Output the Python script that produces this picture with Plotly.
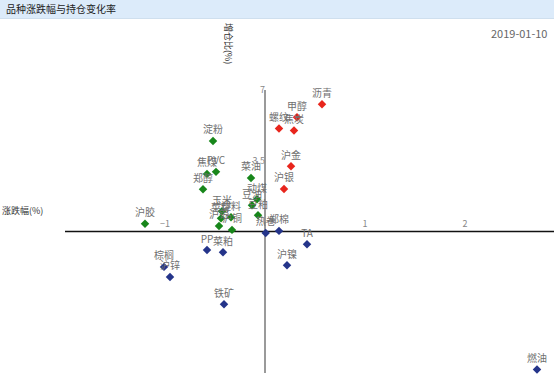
import plotly.graph_objects as go

# ---- data ----
red_names = ["沥青", "甲醇", "螺纹", "焦炭", "沪金", "沪银"]
red_x = [0.57, 0.32, 0.14, 0.29, 0.26, 0.19]
red_y = [6.3, 5.65, 5.1, 5.0, 3.23, 2.1]

green_names = ["淀粉", "焦煤", "PVC", "郑醇", "菜油", "动煤", "豆油", "豆粕",
               "玉米", "菜籽", "塑料", "沪铝", "沪铜", "沪胶"]
green_x = [-0.52, -0.58, -0.49, -0.62, -0.14, -0.08, -0.13, -0.07,
           -0.43, -0.44, -0.34, -0.46, -0.33, -1.2]
green_y = [4.48, 2.85, 2.95, 2.09, 2.65, 1.6, 1.3, 0.8,
           1.0, 0.65, 0.7, 0.27, 0.08, 0.38]

blue_names = ["热卷", "郑棉", "TA", "沪镍", "PP", "菜粕", "棕榈", "沪锌", "铁矿", "燃油"]
blue_x = [0.007, 0.14, 0.42, 0.22, -0.58, -0.42, -1.01, -0.95, -0.41, 2.72]
blue_y = [-0.07, 0.03, -0.63, -1.67, -0.92, -1.03, -1.75, -2.25, -3.6, -6.83]

x_ticks = [-2, -1, 1, 2]
y_ticks = [7, 3.5, 0, -3.5, -7]
y_tick_text = ["7", "3.5", "0", "-3.5", "-7"]

title_text = "品种涨跌幅与持仓变化率"
date_text = "2019-01-10"
x_title = "涨跌幅(%)"
y_title = "增仓比(%)"

FONT = "Noto Sans CJK SC"

fig = go.Figure()
for names, xs, ys, col in [(red_names, red_x, red_y, "#e8251c"),
                           (green_names, green_x, green_y, "#17861a"),
                           (blue_names, blue_x, blue_y, "#24348a")]:
    fig.add_trace(go.Scatter(
        x=xs, y=ys, text=names, mode="markers+text",
        textposition="top center",
        textfont=dict(family=FONT, size=10, color="#707070"),
        marker=dict(symbol="diamond", size=6.5, color=col),
        hoverinfo="text", showlegend=False, cliponaxis=False))

W, H = 554, 380
ml, mr, mt, mb = 65, 0, 90, 7
pw, ph = W - ml - mr, H - mt - mb


def px(xp):
    return (xp - ml) / pw


def py(yp):
    return (H - mb - yp) / ph


xr = [-2, 2.89]
fig.update_layout(
    width=W, height=H,
    margin=dict(l=ml, r=mr, t=mt, b=mb),
    paper_bgcolor="white", plot_bgcolor="white",
    font=dict(family=FONT),
    xaxis=dict(range=xr, anchor="free", position=0.5, showgrid=False,
               zeroline=True, zerolinecolor="#9a9a9a", zerolinewidth=2,
               showline=False, tickvals=x_ticks, ticklabelposition="inside",
               tickfont=dict(size=9, color="#888888"), ticks=""),
    yaxis=dict(range=[-7, 7], anchor="free", position=(0 - xr[0]) / (xr[1] - xr[0]),
               showgrid=False, zeroline=False,
               showline=False, tickvals=y_ticks, ticktext=y_tick_text,
               tickfont=dict(size=9, color="#888888"), ticks=""),
    shapes=[
        dict(type="rect", xref="paper", yref="paper", x0=px(0), x1=px(W),
             y0=py(18), y1=py(0), fillcolor="#dcebfa", line=dict(width=0), layer="below"),
        dict(type="line", xref="paper", yref="paper", x0=px(0), x1=px(W),
             y0=py(18.5), y1=py(18.5), line=dict(color="#cfdfee", width=1)),
        dict(type="line", xref="paper", yref="y", x0=0, x1=1, y0=0, y1=0,
             line=dict(color="#111111", width=1.5), layer="below"),
    ],
    annotations=[
        dict(text=title_text, xref="paper", yref="paper", x=px(4), y=py(9),
             xanchor="left", yanchor="middle", showarrow=False,
             font=dict(family=FONT, size=10, color="#222222")),
        dict(text=date_text, xref="paper", yref="paper", x=px(549), y=py(33),
             xanchor="right", yanchor="middle", showarrow=False,
             font=dict(family=FONT, size=11, color="#666666")),
        dict(text=x_title, xref="paper", yref="paper", x=px(0), y=py(210),
             xanchor="left", yanchor="middle", showarrow=False,
             font=dict(family=FONT, size=9, color="#333333")),
        dict(text=y_title, xref="paper", yref="paper", x=px(228), y=py(43),
             xanchor="center", yanchor="middle", showarrow=False, textangle=90,
             font=dict(family=FONT, size=9, color="#333333")),
    ],
)

fig.write_html("out.html", config={"displayModeBar": False},
               post_script="document.body.style.margin='0';document.body.style.overflow='hidden';")
